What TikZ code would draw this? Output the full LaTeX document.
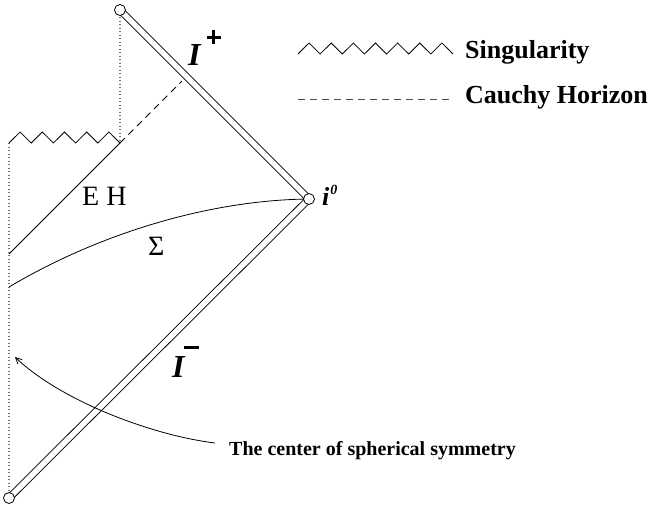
\documentclass[tikz,border=0pt]{standalone}
\usepackage{fontspec}
\setmainfont{Liberation Serif}
\usetikzlibrary{arrows.meta}
\pgfdeclarelayer{bg}
\pgfsetlayers{bg,main}
\newcommand{\thickplus}{\rlap{\raisebox{5.5pt}{\rule{14pt}{3pt}}}\hspace{5.5pt}\rule{3pt}{14pt}\hspace{5.5pt}}
\begin{document}
\begin{tikzpicture}[x=1pt,y=-1pt,
  endpt/.style={circle,draw,fill=white,minimum size=11pt,inner sep=0pt,line width=0.8pt},
  dbl/.style={double,double distance=5.6pt,line width=0.9pt,line join=round},
  plain/.style={line width=0.8pt},
  dotline/.style={line width=1.1pt,dash pattern=on 1.1pt off 2.4pt,black!55},
  horizon/.style={line width=0.8pt,dash pattern=on 7pt off 5pt},
  lbl/.style={inner sep=0pt,anchor=base west},
]
\useasboundingbox (0,0) rectangle (654,507);
% end points
\node[endpt] (top) at (120,10) {};
\node[endpt] (izero) at (309,199) {};
\node[endpt] (bot) at (9,498) {};
% key coordinates
\coordinate (ehtop) at (120,143);
\coordinate (zleft) at (9,143);
\coordinate (ehbot) at (9,254);
\coordinate (chend) at (182,81);
\coordinate (sigstart) at (9,287);
\coordinate (arrstart) at (215,443);
\coordinate (arrend) at (15,357);
\coordinate (legz) at (298,54);
\coordinate (legd1) at (298,99);
\coordinate (legd2) at (453,99);
% labels
\node[lbl] (iplus) at (188,65) {\fontsize{32}{32}\selectfont\bfseries\itshape I\hspace{6pt}\raisebox{21pt}{\thickplus}};
\node[lbl] (iminus) at (172,377) {\fontsize{32}{32}\selectfont\bfseries\itshape I\hspace{-1pt}\raisebox{28pt}{\rule{15pt}{3pt}}};
\node[lbl] (izlbl) at (322,205) {\fontsize{26}{26}\selectfont\bfseries\itshape i\hspace{1pt}\raisebox{11pt}{\fontsize{14}{14}\selectfont 0}};
\node[lbl] (ehlbl) at (82,205) {\fontsize{28}{28}\selectfont E H};
\node[lbl] (siglbl) at (148,255) {\fontsize{28}{28}\selectfont Σ};
\node[lbl] (centerlbl) at (229,455) {\fontsize{20}{20}\selectfont\bfseries The center of spherical symmetry};
\node[lbl] (singlbl) at (465,58) {\fontsize{26}{26}\selectfont\bfseries Singularity};
\node[lbl] (cauchylbl) at (465,103) {\fontsize{26}{26}\selectfont\bfseries Cauchy Horizon};
% lines
\begin{pgfonlayer}{bg}
\draw[dbl] (top.center) -- (izero.center) -- (bot.center);
\draw[dotline] (top.center) -- (ehtop);
\draw[dotline] (zleft) -- (bot.center);
\draw[plain] (zleft) \foreach \k in {1,...,5}{ -- ++(11.1,-11) -- ++(11.1,11)};
\draw[plain] (ehtop) -- (ehbot);
\draw[horizon] (ehtop) -- (chend);
\draw[plain] (sigstart) .. controls (100,233) and (210,200) .. (izero.center);
\draw[plain,-{Straight Barb[length=6pt,width=6pt]}] (arrstart) .. controls (150,435) and (60,400) .. (arrend);
\draw[plain] (legz) \foreach \k in {1,...,7}{ -- ++(11.07,-11) -- ++(11.07,11)};
\draw[horizon,black!70] (legd1) -- (legd2);
\end{pgfonlayer}
\end{tikzpicture}
\end{document}
